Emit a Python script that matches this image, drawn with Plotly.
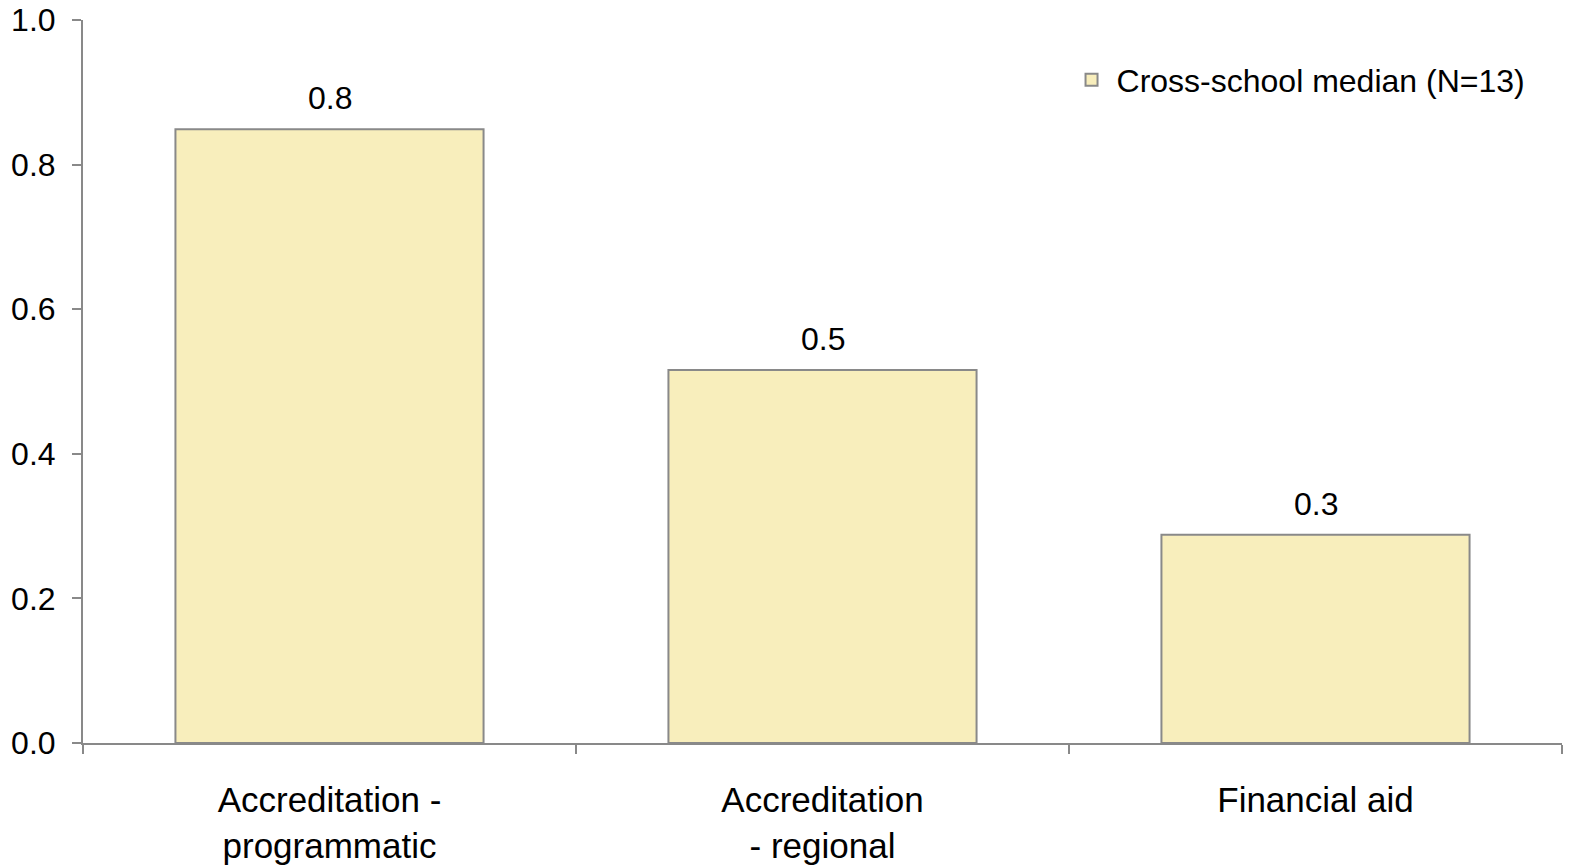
import plotly.graph_objects as go

categories = ["Accreditation -<br>programmatic", "Accreditation<br>- regional", "Financial aid"]
values = [0.849, 0.516, 0.288]
series_name = "Cross-school median (N=13)"
y_ticks = [0.0, 0.2, 0.4, 0.6, 0.8, 1.0]

FONT = "Liberation Sans, Arial, sans-serif"
AXIS_COLOR = "#898989"

fig = go.Figure()
fig.add_trace(go.Bar(
    x=categories, y=values, name=series_name,
    marker=dict(color="#F8EEBC", line=dict(color=AXIS_COLOR, width=2)),
    width=0.625, showlegend=True,
))

for c, v in zip(categories, values):
    fig.add_annotation(x=c, y=v, text=f"{v:.1f}", showarrow=False,
                       yanchor="bottom", yshift=11,
                       font=dict(family=FONT, size=32, color="#000"))

fig.update_layout(
    width=1571, height=866,
    margin=dict(l=83, r=9, t=20, b=123, autoexpand=False),
    paper_bgcolor="white", plot_bgcolor="white",
    font=dict(family=FONT, color="#000"),
    showlegend=True,
    legend=dict(x=0.665, y=0.917, xanchor="left", yanchor="middle",
                font=dict(family=FONT, size=32, color="#000"),
                bgcolor="rgba(0,0,0,0)", itemwidth=40),
    xaxis=dict(
        showline=True, linecolor=AXIS_COLOR, linewidth=2,
        ticks="outside", ticklen=9, tickwidth=2, tickcolor=AXIS_COLOR,
        tickson="boundaries", showgrid=False, automargin=False,
        tickfont=dict(family=FONT, size=35, color="#000"),
        ticklabelstandoff=25,
    ),
    yaxis=dict(
        range=[0, 1], tickvals=y_ticks, tickformat=".1f",
        showline=True, linecolor=AXIS_COLOR, linewidth=2,
        ticks="outside", ticklen=9, tickwidth=2, tickcolor=AXIS_COLOR,
        showgrid=False, zeroline=False, automargin=False,
        tickfont=dict(family=FONT, size=32, color="#000"),
        ticklabelstandoff=10,
    ),
)

fig.write_html("out.html", config={"displayModeBar": False},
               post_script="document.body.style.margin='0';")
